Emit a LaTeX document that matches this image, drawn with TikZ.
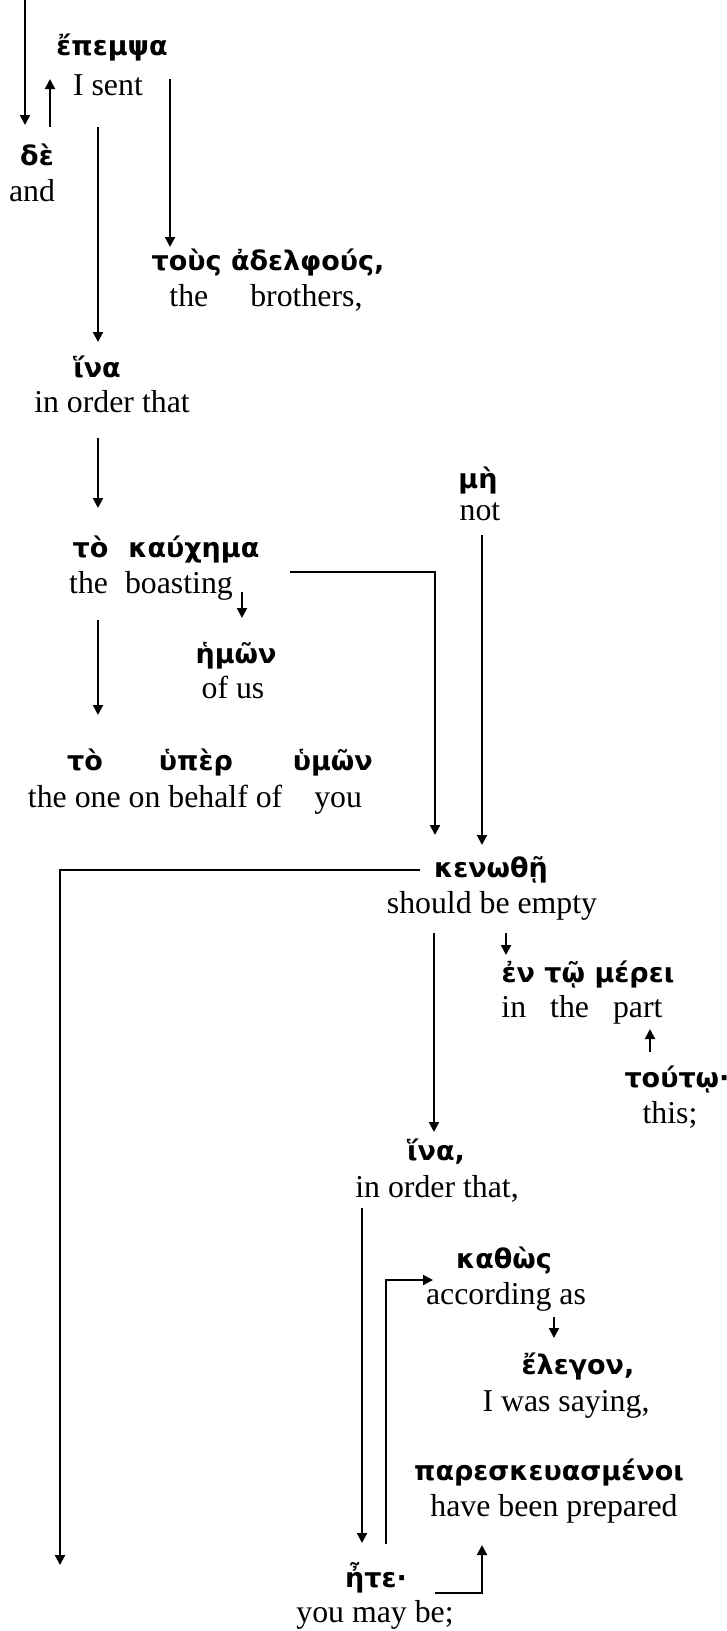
\documentclass[tikz,border=0pt]{standalone}
\usepackage{fontspec}
\setmainfont{Liberation Serif}
\newfontfamily\gk{DejaVu Sans}
\usetikzlibrary{arrows.meta,calc}

\begin{document}
\begin{tikzpicture}[x=1pt, y=-1pt, line width=2pt,
    greek/.style={inner sep=0pt, anchor=base, font=\gk\bfseries\fontsize{27}{32}\selectfont},
    gloss/.style={inner sep=0pt, anchor=base, font=\fontsize{31.8}{36}\selectfont},
    link/.style={-{Triangle[length=10pt,width=10pt]}}]
    \useasboundingbox (0,0) rectangle (727,1631);

    % words and glosses
    \node[greek] (epempsa) at (112,55) {ἔπεμψα};
    \node[gloss] (epempsa-g) at (108,95) {I sent};
    \node[greek] (de) at (37,165) {δὲ};
    \node[gloss] (de-g) at (32,201) {and};
    \node[greek] (adelphous) at (268,270) {τοὺς ἀδελφούς,};
    \node[gloss] (adelphous-g) at (266,306) {the\hspace{42pt}brothers,};
    \node[greek] (hina) at (97,377) {ἵνα};
    \node[gloss] (hina-g) at (112,412) {in order that};
    \node[greek] (kauchema) at (166,557) {τὸ\hspace{20pt}καύχημα};
    \node[gloss] (kauchema-g) at (151,593) {the\hspace{17pt}boasting};
    \node[greek] (hemon) at (236,663) {ἡμῶν};
    \node[gloss] (hemon-g) at (233,698) {of us};
    \node[greek] (huper) at (220,770) {τὸ\hspace{56pt}ὑπὲρ\hspace{60pt}ὑμῶν};
    \node[gloss] (huper-g) at (195,807) {the one on behalf of\hspace{32pt}you};
    \node[greek] (me) at (478,488) {μὴ};
    \node[gloss] (me-g) at (480,520) {not};
    \node[greek] (kenothe) at (491,877) {κενωθῇ};
    \node[gloss] (kenothe-g) at (492,913) {should be empty};
    \node[greek] (merei) at (588,982) {ἐν τῷ μέρει};
    \node[gloss] (merei-g) at (582,1017) {in\hspace{24pt}the\hspace{24pt}part};
    \node[greek] (touto) at (677,1087) {τούτῳ·};
    \node[gloss] (touto-g) at (670,1123) {this;};
    \node[greek] (hina2) at (436,1160) {ἵνα,};
    \node[gloss] (hina2-g) at (437,1197) {in order that,};
    \node[greek] (kathos) at (504,1268) {καθὼς};
    \node[gloss] (kathos-g) at (506,1304) {according as};
    \node[greek] (elegon) at (578,1374) {ἔλεγον,};
    \node[gloss] (elegon-g) at (566,1411) {I was saying,};
    \node[greek] (pareskeu) at (549,1480) {παρεσκευασμένοι};
    \node[gloss] (pareskeu-g) at (554,1516) {have been prepared};
    \node[greek] (ete) at (376,1587) {ἦτε·};
    \node[gloss] (ete-g) at (375,1622) {you may be;};

    \coordinate (top) at (25,0);
    \coordinate (bottom) at (60,1565);

    % connectors
    \draw[link] (top) -- ($(de.base)+(-12,-40)$);
    \draw[link] ($(de.base)+(13,-38)$) -- ($(epempsa-g.base)+(-58,-16)$);
    \draw[link] ($(epempsa-g.base)+(62,-16)$) -- ($(adelphous.base)+(-98,-23)$);
    \draw[link] ($(epempsa-g.base)+(-10,32)$) -- ($(hina.base)+(1,-35)$);
    \draw[link] ($(hina-g.base)+(-14,26)$) -- ($(kauchema.base)+(-68,-49)$);
    \draw[link] ($(kauchema-g.base)+(91,-1)$) -- ($(hemon.base)+(6,-45)$);
    \draw[link] ($(kauchema-g.base)+(-53,27)$) -- ($(huper.base)+(-122,-55)$);
    \draw[link] ($(kauchema-g.base)+(139,-21)$) -| ($(kenothe.base)+(-56,-42)$);
    \draw[link] ($(me-g.base)+(2,15)$) -- ($(kenothe.base)+(-9,-32)$);
    \draw[link] ($(kenothe.base)+(-71,-7)$) -| (bottom);
    \draw[link] ($(kenothe-g.base)+(-58,20)$) -- ($(hina2.base)+(-2,-28)$);
    \draw[link] ($(kenothe-g.base)+(14,20)$) -- ($(merei.base)+(-82,-27)$);
    \draw[link] ($(touto.base)+(-27,-35)$) -- ($(merei-g.base)+(68,12)$);
    \draw[link] ($(hina2-g.base)+(-75,11)$) -- ($(ete.base)+(-14,-44)$);
    \draw[link] ($(ete.base)+(10,-43)$) |- ($(kathos-g.base)+(-73,-24)$);
    \draw[link] ($(kathos-g.base)+(48,13)$) -- ($(elegon.base)+(-24,-36)$);
    \draw[link] ($(ete.base)+(59,6)$) -| ($(pareskeu-g.base)+(-72,29)$);
\end{tikzpicture}
\end{document}
